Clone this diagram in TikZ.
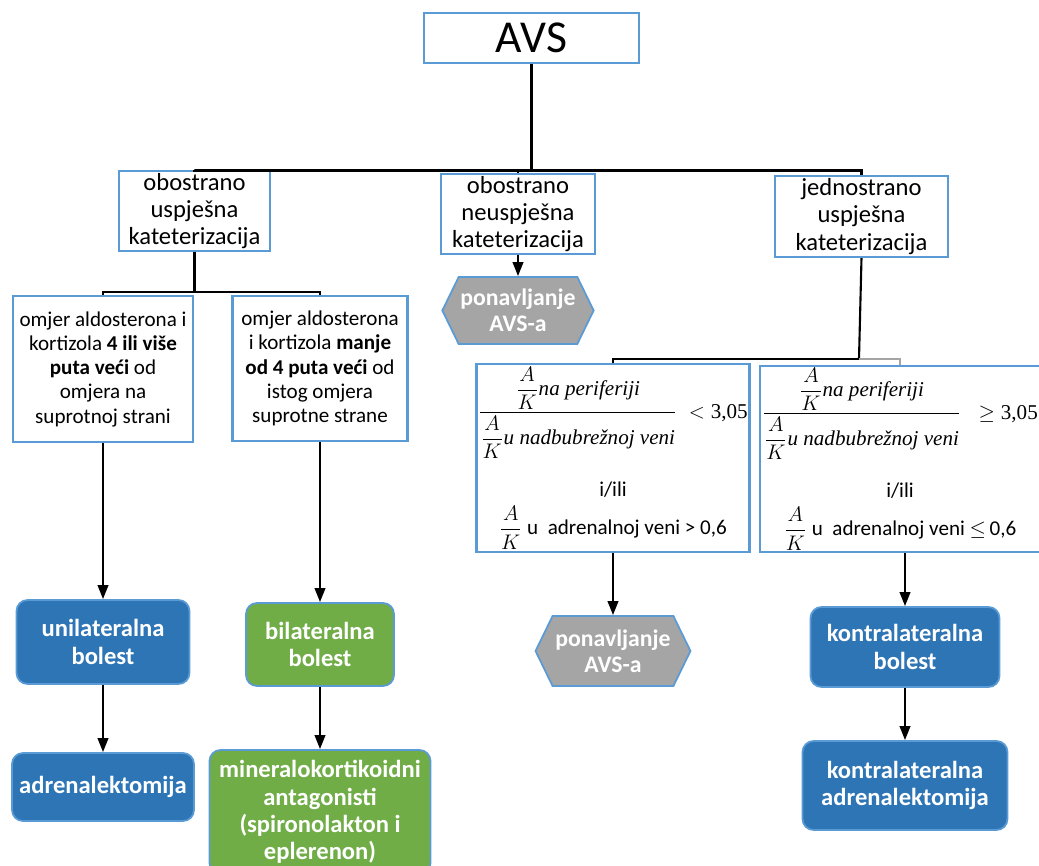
\documentclass[tikz,border=0pt]{standalone}
\usepackage{fontspec}
\usepackage{amsmath,amssymb}
\setmainfont{Carlito}
\newfontfamily\formfont{Liberation Serif}
\usetikzlibrary{positioning,arrows.meta,shapes.symbols}
\definecolor{lineblue}{HTML}{5B9BD5}
\definecolor{fillblue}{HTML}{2E75B6}
\definecolor{fillgreen}{HTML}{70AD47}
\definecolor{fillgray}{HTML}{A5A5A5}
\newcommand{\fit}[1]{\text{\formfont\itshape #1}}
\newcommand{\fnum}[1]{\text{\formfont #1}}

\begin{document}
\begin{tikzpicture}[x=0.02cm,y=-0.02cm]
\tikzset{
  wbox/.style={draw=lineblue,line width=1.2pt,fill=white,align=center,inner sep=1pt,
    font=\fontsize{14}{15.5}\selectfont},
  tbox/.style={wbox,font=\fontsize{12}{13.8}\selectfont},
  rbox/.style={draw=lineblue,line width=1pt,rounded corners=0.22cm,align=center,inner sep=1pt,
    text=white,font=\bfseries\fontsize{14}{15.5}\selectfont},
  bluebox/.style={rbox,fill=fillblue},
  greenbox/.style={rbox,fill=fillgreen},
  hexbox/.style={signal,signal to=east and west,signal pointer angle=128,draw=lineblue,line width=1pt,
    fill=fillgray,text=white,align=center,inner sep=1pt,font=\bfseries\fontsize{13.5}{15}\selectfont},
  conn/.style={line width=1.2pt},
  arr/.style={line width=1.2pt,-{Triangle[length=8pt,width=6pt]}}
}
\useasboundingbox (0,0) rectangle (1039,866);

% top level
\node[wbox,minimum width=4.3cm,minimum height=1cm,font=\fontsize{26}{30}\selectfont] (avs) at (531.5,38) {AVS};
\node[wbox,minimum width=3.02cm,minimum height=1.52cm] (obu) at (194.5,211) {obostrano\\uspješna\\kateterizacija};
\node[wbox,minimum width=3.08cm,minimum height=1.48cm] (obn) at (518,214) {obostrano\\neuspješna\\kateterizacija};
\node[wbox,minimum width=3.46cm,minimum height=1.62cm] (jus) at (861.5,216.5) {jednostrano\\uspješna\\kateterizacija};

\coordinate (j1) at (531.5,170.5);
\coordinate (j2) at (194.5,292);
\coordinate (j3) at (859,359);

% second level
\node[tbox,minimum width=3.6cm,minimum height=2.92cm] (om1) at (103,369) {omjer aldosterona i\\kortizola \textbf{4 ili više}\\\textbf{puta veći} od\\omjera na\\suprotnoj strani};
\node[tbox,minimum width=3.5cm,minimum height=2.9cm] (om2) at (320,368.5) {omjer aldosterona\\i kortizola \textbf{manje}\\\textbf{od 4 puta veći} od\\istog omjera\\suprotne strane};
\node[hexbox,minimum width=3.02cm,minimum height=1.34cm] (hex1) at (518,310.5) {ponavljanje\\AVS-a};

\node[tbox,minimum width=5.4cm,minimum height=3.76cm] (f1) at (613,458)
  {$\dfrac{\dfrac{A}{K}\fit{na periferiji}}{\dfrac{A}{K}\fit{u nadbubrežnoj veni}}\;<\fnum{3,05}$\\[12pt]
   i/ili\\[4pt]
   $\dfrac{A}{K}$ u~~adrenalnoj veni > 0,6};
\node[tbox,minimum width=5.48cm,minimum height=3.68cm] (f2) at (900,459)
  {$\dfrac{\dfrac{A}{K}\fit{na periferiji}}{\dfrac{A}{K}\fit{u nadbubrežnoj veni}}\;\;\geq\fnum{3,05}$\\[12pt]
   i/ili\\[4pt]
   $\dfrac{A}{K}$ u~~adrenalnoj veni $\leq$\,0,6};

% outcomes
\node[bluebox,minimum width=3.46cm,minimum height=1.68cm] (uni) at (103,642) {unilateralna\\bolest};
\node[bluebox,minimum width=3.64cm,minimum height=1.36cm] (adr) at (103,787) {adrenalektomija};
\node[greenbox,minimum width=2.96cm,minimum height=1.66cm] (bil) at (320,644.5) {bilateralna\\bolest};
\node[greenbox,minimum width=4.42cm,minimum height=2.48cm] (min) at (320,812) {mineralokortikoidni\\antagonisti\\(spironolakton i\\eplerenon)};
\node[hexbox,minimum width=3.1cm,minimum height=1.4cm] (hex2) at (613,651) {ponavljanje\\AVS-a};
\node[bluebox,minimum width=3.78cm,minimum height=1.6cm] (kb) at (905,647) {kontralateralna\\bolest};
\node[bluebox,minimum width=4.1cm,minimum height=1.78cm] (ka) at (905,785.5) {kontralateralna\\adrenalektomija};

% connectors
\draw[conn] (avs.south) -- (j1);
\draw[conn] (j1) -| (obu.north);
\draw[conn] (j1) -| (obn.north);
\draw[conn] (j1) -| (jus.north);
\draw[conn] (obu.south) -- (j2);
\draw[conn] (j2) -| (om1.north);
\draw[conn] (j2) -| (om2.north);
\draw[conn] (jus.south) -- (j3);
\draw[conn] (j3) -| (f1.north);
\draw[conn,fillgray] (j3) -| (f2.north);
\draw[arr] (obn.south) -- (hex1.north);
\draw[arr] (om1.south) -- (uni.north);
\draw[arr] (om2.south) -- (bil.north);
\draw[arr] (uni.south) -- (adr.north);
\draw[arr] (bil.south) -- (min.north);
\draw[arr] (f1.south) -- (hex2.north);
\draw[arr] (kb.north |- f2.south) -- (kb.north);
\draw[arr] (kb.south) -- (ka.north);
\end{tikzpicture}
\end{document}
